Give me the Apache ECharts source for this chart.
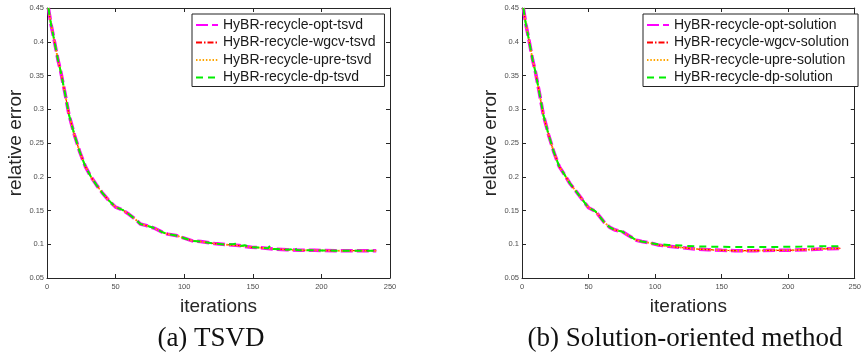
<!DOCTYPE html>
<html>
<head>
<meta charset="utf-8">
<script src="https://cdn.jsdelivr.net/npm/echarts@6/dist/echarts.min.js"></script>
<style>
html,body{margin:0;padding:0;background:#fff;}
#c{width:864px;height:357px;}
</style>
</head>
<body>
<div id="c"></div>
<script>
// ---------- DATA ----------
const xTicks = [0, 50, 100, 150, 200, 250];
const yTicks = [0.05, 0.1, 0.15, 0.2, 0.25, 0.3, 0.35, 0.4, 0.45];

const namesTsvd = ['HyBR-recycle-opt-tsvd', 'HyBR-recycle-wgcv-tsvd', 'HyBR-recycle-upre-tsvd', 'HyBR-recycle-dp-tsvd'];
const namesSol = ['HyBR-recycle-opt-solution', 'HyBR-recycle-wgcv-solution', 'HyBR-recycle-upre-solution', 'HyBR-recycle-dp-solution'];

// (a) TSVD
const iterTsvd = [1,3,5,8,10,13,16,20,24,28,32,36,40,45,50,55,60,65,68,72,78,84,88,94,100,106,112,122,130,140,149,155,165,175,185,195,210,225,240];
const errOptTsvd  = [0.45,0.425,0.405,0.373,0.356,0.325,0.292,0.262,0.236,0.215,0.2,0.188,0.177,0.165,0.155,0.151,0.144,0.136,0.130,0.128,0.124,0.118,0.115,0.113,0.109,0.105,0.104,0.101,0.0995,0.098,0.0955,0.095,0.093,0.092,0.091,0.091,0.0905,0.0905,0.0905];
const errWgcvTsvd = errOptTsvd.slice();
const errUpreTsvd = errOptTsvd.slice();
const iterDpTsvd = [1,3,5,8,10,13,16,20,24,28,32,36,40,45,50,55,60,65,68,72,78,84,88,94,100,106,112,122,130,136,138,141,144,149,155,161,163,165,175,178,180,182,185,195,210,225,240];
const errDpTsvd  = [0.45,0.425,0.405,0.373,0.356,0.325,0.292,0.262,0.236,0.215,0.2,0.188,0.177,0.165,0.155,0.151,0.144,0.136,0.130,0.128,0.124,0.118,0.115,0.113,0.109,0.105,0.104,0.101,0.0995,0.1003,0.1008,0.0975,0.0985,0.0955,0.095,0.094,0.0984,0.093,0.092,0.0925,0.096,0.0915,0.091,0.091,0.0905,0.0905,0.0905];

// (b) Solution-oriented
const iterSol = [1,3,5,8,10,13,16,20,24,28,32,36,40,45,50,55,58,62,66,70,75,80,86,90,96,102,110,120,130,140,150,160,175,190,200,215,225,240];
const errOptSol  = [0.45,0.425,0.405,0.373,0.356,0.325,0.292,0.262,0.236,0.215,0.203,0.19,0.18,0.167,0.154,0.149,0.142,0.132,0.125,0.121,0.119,0.113,0.106,0.104,0.102,0.099,0.097,0.095,0.093,0.092,0.091,0.0905,0.0905,0.091,0.091,0.092,0.093,0.094];
const errWgcvSol = errOptSol.slice();
const errUpreSol = errOptSol.slice();
const iterDpSol = [1,3,5,8,10,13,16,20,24,28,32,36,40,45,50,55,58,62,66,70,75,80,86,90,96,102,110,120,130,140,160,190,210,225,240];
const errDpSol  = [0.45,0.425,0.405,0.373,0.356,0.325,0.292,0.262,0.236,0.215,0.203,0.19,0.18,0.167,0.154,0.149,0.142,0.132,0.125,0.121,0.119,0.113,0.106,0.104,0.102,0.1,0.099,0.098,0.097,0.0965,0.096,0.096,0.0965,0.097,0.097];

const captions = ['(a) TSVD', '(b) Solution-oriented method'];
const xName = 'iterations';
const yName = 'relative error';

// ---------- CHART ----------
const pair = (xs, ys) => xs.map((x, i) => [x, ys[i]]);
const grids = [
  {left: 47, top: 8, width: 343, height: 270},
  {left: 522, top: 8, width: 343, height: 270}
];
const axisColor = '#262626';
const labelColor = '#4d4d4d';

function xAxes(gi) {
  return [
    {type: 'value', gridIndex: gi, position: 'bottom', min: 0, max: 250, interval: 50,
     axisLine: {show: true, onZero: false, lineStyle: {color: axisColor, width: 1}},
     axisTick: {show: true, inside: true, length: 4, lineStyle: {color: axisColor}},
     axisLabel: {fontSize: 7.5, color: labelColor, margin: 5, fontFamily: 'Liberation Sans',
                 formatter: v => xTicks.includes(v) ? String(v) : ''},
     splitLine: {show: false},
     name: xName, nameLocation: 'middle', nameGap: 19,
     nameTextStyle: {fontSize: 19, color: '#262626', fontFamily: 'Liberation Sans'}},
    {type: 'value', gridIndex: gi, position: 'top', min: 0, max: 250, interval: 50,
     axisLine: {show: true, onZero: false, lineStyle: {color: axisColor, width: 1}},
     axisTick: {show: true, inside: true, length: 4, lineStyle: {color: axisColor}},
     axisLabel: {show: false}, splitLine: {show: false}}
  ];
}
function yAxes(gi) {
  return [
    {type: 'value', gridIndex: gi, position: 'left', min: 0.05, max: 0.45, interval: 0.05,
     axisLine: {show: true, onZero: false, lineStyle: {color: axisColor, width: 1}},
     axisTick: {show: true, inside: true, length: 4, lineStyle: {color: axisColor}},
     axisLabel: {fontSize: 7.5, color: labelColor, margin: 3, fontFamily: 'Liberation Sans',
                 formatter: v => { const r = Math.round(v * 100) / 100; return yTicks.includes(r) ? String(r) : ''; }},
     splitLine: {show: false},
     name: yName, nameLocation: 'middle', nameGap: 21, nameRotate: 90,
     nameTextStyle: {fontSize: 19, color: '#262626', fontFamily: 'Liberation Sans'}},
    {type: 'value', gridIndex: gi, position: 'right', min: 0.05, max: 0.45, interval: 0.05,
     axisLine: {show: true, onZero: false, lineStyle: {color: axisColor, width: 1}},
     axisTick: {show: true, inside: true, length: 4, lineStyle: {color: axisColor}},
     axisLabel: {show: false}, splitLine: {show: false}}
  ];
}

const styles = [
  {color: '#ff00ff', width: 3.5, type: [12, 4]},
  {color: '#ff0000', width: 1.2, type: [6, 2, 1.5, 2]},
  {color: '#ffa500', width: 2, type: [1.5, 1.8]},
  {color: '#00ee00', width: 2, type: [7, 5]}
];

function mk(name, data, gi, si) {
  const st = styles[si];
  return {
    name: name, type: 'line', xAxisIndex: gi * 2, yAxisIndex: gi * 2,
    data: data, symbol: 'none', showSymbol: false, smooth: false, animation: false,
    color: st.color,
    itemStyle: {color: st.color},
    lineStyle: {color: st.color, width: st.width, type: st.type},
    z: 2 + si
  };
}

const series = [
  mk(namesTsvd[0], pair(iterTsvd, errOptTsvd), 0, 0),
  mk(namesTsvd[1], pair(iterTsvd, errWgcvTsvd), 0, 1),
  mk(namesTsvd[2], pair(iterTsvd, errUpreTsvd), 0, 2),
  mk(namesTsvd[3], pair(iterDpTsvd, errDpTsvd), 0, 3),
  mk(namesSol[0], pair(iterSol, errOptSol), 1, 0),
  mk(namesSol[1], pair(iterSol, errWgcvSol), 1, 1),
  mk(namesSol[2], pair(iterSol, errUpreSol), 1, 2),
  mk(namesSol[3], pair(iterDpSol, errDpSol), 1, 3)
];

function legend(names, left) {
  return {
    data: names, orient: 'vertical', left: left, top: 14,
    itemWidth: 22, itemHeight: 14, itemGap: 3.5,
    padding: [4, 9, 2, 3],
    backgroundColor: '#fff', borderColor: '#222', borderWidth: 1,
    textStyle: {fontSize: 14, color: '#1a1a1a', fontFamily: 'Liberation Sans'},
    itemStyle: {opacity: 0},
    lineStyle: {opacity: 1},
    selectedMode: false
  };
}

const chart = echarts.init(document.getElementById('c'), null, {renderer: 'canvas'});
chart.setOption({
  animation: false,
  backgroundColor: '#fff',
  grid: grids,
  xAxis: [...xAxes(0), ...xAxes(1)],
  yAxis: [...yAxes(0), ...yAxes(1)],
  legend: [legend(namesTsvd, 192), legend(namesSol, 643)],
  series: series,
  graphic: [
    {type: 'text', x: 211, y: 339, style: {text: captions[0], font: '27px "Liberation Serif"', fill: '#111', align: 'center', verticalAlign: 'middle'}},
    {type: 'text', x: 685, y: 339, style: {text: captions[1], font: '27px "Liberation Serif"', fill: '#111', align: 'center', verticalAlign: 'middle'}}
  ]
});
</script>
</body>
</html>
